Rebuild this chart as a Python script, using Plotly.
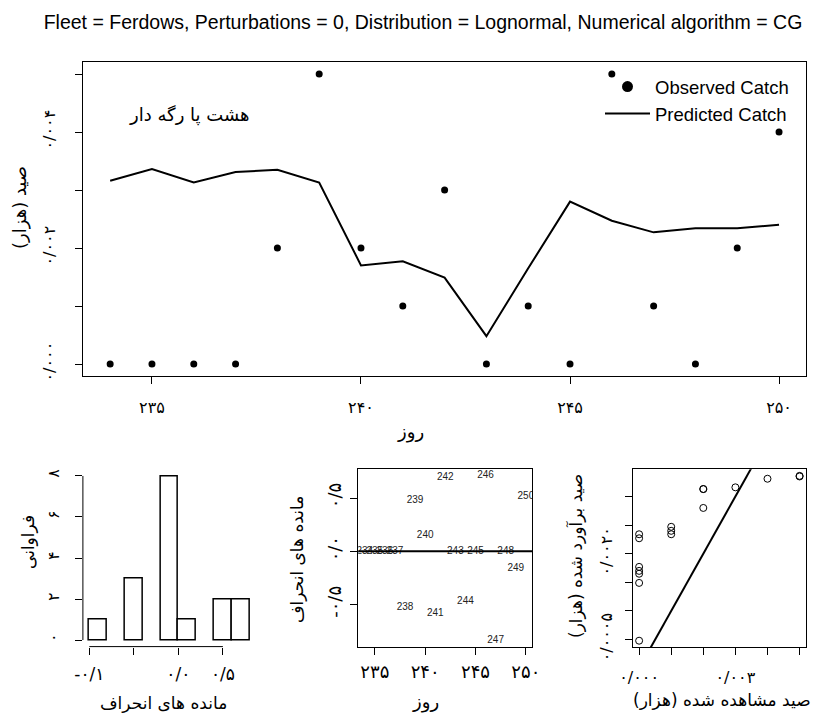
import plotly.graph_objects as go

# ---------------- data ----------------
days = [234, 235, 236, 237, 238, 239, 240, 241, 242, 243, 244, 245, 246, 247, 248, 249, 250]
observed = [0.0, 0.0, 0.0, 0.0, 0.002, 0.005, 0.002, 0.001, 0.003, 0.0, 0.001, 0.0, 0.005, 0.001, 0.0, 0.002, 0.004]
predicted = [0.00316, 0.00336, 0.00313, 0.00331, 0.00335, 0.00313, 0.00170, 0.00177, 0.00149, 0.00048,
             0.00165, 0.00280, 0.00247, 0.00227, 0.00234, 0.00234, 0.00240]
residuals = [0.0, 0.0, 0.0, 0.0, -0.0525, 0.0475, 0.015, -0.0584, 0.0694, 0.0, -0.0475, 0.0, 0.0709,
             -0.0834, 0.0, -0.0165, 0.0516]
hist_breaks = [-0.1, -0.08, -0.06, -0.04, -0.02, 0.0, 0.02, 0.04, 0.06, 0.08]

top_x_ticks = [235, 240, 245, 250]
top_x_text = ["۲۳۵", "۲۴۰", "۲۴۵", "۲۵۰"]
top_y_ticks = [0.0, 0.001, 0.002, 0.003, 0.004, 0.005]
top_y_text = ["۰/۰۰۰", "", "۰/۰۰۲", "", "۰/۰۰۴", ""]
hist_x_ticks = [-0.1, -0.05, 0.0, 0.05]
hist_x_text = ["-۰/۱", "", "۰/۰", "۰/۵"]
hist_y_ticks = [0, 2, 4, 6, 8]
hist_y_text = ["۰", "۲", "۴", "۶", "۸"]
mid_y_ticks = [-0.05, 0.0, 0.05]
mid_y_text = ["-۰/۵", "۰/۰", "۰/۵"]
right_x_ticks = [0.0, 0.001, 0.002, 0.003, 0.004, 0.005]
right_x_text = ["۰/۰۰۰", "", "", "۰/۰۰۳", "", ""]
right_y_ticks = [0.0005, 0.001, 0.0015, 0.002, 0.0025, 0.003]
right_y_text = ["۰/۰۰۰۵", "", "", "۰/۰۰۲۰", "", ""]

title_text = "Fleet = Ferdows, Perturbations = 0, Distribution = Lognormal, Numerical algorithm = CG"
species_text = "هشت پا رگه دار"
RLM = "\u200f"

# ---------------- helpers ----------------
W, H = 824, 715
FA = "DejaVu Sans"
EN = "Liberation Sans, Arial, sans-serif"


def px(x):
    return x / W


def py(y):
    return 1 - y / H


def ext(vals):
    lo, hi = min(vals), max(vals)
    d = (hi - lo) * 0.04
    return [lo - d, hi + d]


# histogram counts, right-closed bins like R
counts = []
for i in range(len(hist_breaks) - 1):
    a, b = hist_breaks[i], hist_breaks[i + 1]
    c = sum(1 for r in residuals if (a < r <= b) or (i == 0 and r == a))
    counts.append(c)
centers = [(hist_breaks[i] + hist_breaks[i + 1]) / 2 for i in range(len(counts))]
bw = hist_breaks[1] - hist_breaks[0]
bx = [c for c, n in zip(centers, counts) if n > 0]
by = [n for n in counts if n > 0]

obs_sorted = sorted(observed)
pred_sorted = sorted(predicted)

fig = go.Figure()

# top panel
fig.add_trace(go.Scatter(x=days, y=observed, mode="markers", marker=dict(color="black", size=7),
                         showlegend=False, xaxis="x", yaxis="y"))
fig.add_trace(go.Scatter(x=days, y=predicted, mode="lines", line=dict(color="black", width=2),
                         showlegend=False, xaxis="x", yaxis="y"))
fig.add_trace(go.Scatter(x=[None], y=[None], mode="markers", marker=dict(color="black", size=11),
                         name="Observed Catch", xaxis="x", yaxis="y"))
fig.add_trace(go.Scatter(x=[None], y=[None], mode="lines", line=dict(color="black", width=2),
                         name="Predicted Catch", xaxis="x", yaxis="y"))

# histogram
fig.add_trace(go.Bar(x=bx, y=by, width=bw, marker=dict(color="white", line=dict(color="black", width=1.5)),
                     showlegend=False, xaxis="x2", yaxis="y2"))

# residuals vs day
fig.add_trace(go.Scatter(x=days, y=residuals, mode="text", text=[str(d) for d in days],
                         textfont=dict(family=EN, size=10, color="#222"), showlegend=False,
                         xaxis="x3", yaxis="y3"))

# observed vs predicted (sorted)
rx = ext(obs_sorted)
ry = ext(pred_sorted)
fig.add_trace(go.Scatter(x=obs_sorted, y=pred_sorted, mode="markers",
                         marker=dict(symbol="circle-open", color="black", size=7, line=dict(width=1)),
                         showlegend=False, xaxis="x4", yaxis="y4"))
lim = [min(rx[0], ry[0]), max(rx[1], ry[1])]
fig.add_trace(go.Scatter(x=lim, y=lim, mode="lines", line=dict(color="black", width=2),
                         showlegend=False, xaxis="x4", yaxis="y4"))


def axis(domain, anchor, rng, tv, tt, size, angle=0, standoff=4, box=True):
    return dict(domain=domain, anchor=anchor, range=rng, tickvals=tv, ticktext=tt,
                ticks="outside", ticklen=7, tickwidth=1, tickcolor="black",
                showline=box, mirror=box, linecolor="black", linewidth=1,
                showgrid=False, zeroline=False, tickangle=angle, automargin=False,
                tickfont=dict(family=FA, size=size, color="black"),
                ticklabelstandoff=standoff, fixedrange=True)


top_xr = ext(days)
top_yr = ext(observed + predicted)
hist_xr = ext(hist_breaks)
hist_yr = ext([0] + counts)
mid_xr = ext(days)
mid_yr = ext(residuals)

layout = dict(
    width=W, height=H, margin=dict(l=0, r=0, t=0, b=0, autoexpand=False),
    paper_bgcolor="white", plot_bgcolor="white",
    title=dict(text=title_text, x=px(423), xanchor="center", y=py(22), yanchor="middle",
               xref="paper", yref="container", automargin=False,
               font=dict(family=EN, size=19.5, color="black")),
    legend=dict(x=px(600), y=py(68), xanchor="left", yanchor="top", bgcolor="rgba(0,0,0,0)",
                font=dict(family=EN, size=18.5, color="black"), itemwidth=45, tracegroupgap=0),
    xaxis=axis([px(83.4), px(805.8)], "y", top_xr, top_x_ticks, top_x_text, 16, 0, 10),
    yaxis=axis([py(375.6), py(62.4)], "x", top_yr, top_y_ticks, top_y_text, 16, -90, 14),
    xaxis2=axis([px(82.9), px(256)], "y2", hist_xr, hist_x_ticks, hist_x_text, 17, 0, 5, box=False),
    yaxis2=axis([py(646.6), py(469.4)], "x2", hist_yr, hist_y_ticks, hist_y_text, 16, -90, 10, box=False),
    xaxis3=axis([px(358.3), px(532.3)], "y3", mid_xr, top_x_ticks, top_x_text, 18, 0, 2),
    yaxis3=axis([py(646.7), py(469.3)], "x3", mid_yr, mid_y_ticks, mid_y_text, 18, -90, 2),
    xaxis4=axis([px(632.7), px(806)], "y4", rx, right_x_ticks, right_x_text, 16, 0, 8),
    yaxis4=axis([py(647.3), py(469.3)], "x4", ry, right_y_ticks, right_y_text, 16, -90, 6),
    bargap=0,
)
fig.update_layout(**layout)

# histogram axis lines spanning only the tick range (as in R)
fig.add_shape(type="line", xref="x2", yref="y2 domain", x0=hist_x_ticks[0], x1=hist_x_ticks[-1], y0=0, y1=0,
              line=dict(color="black", width=1))
fig.add_shape(type="line", xref="x2 domain", yref="y2", x0=0, x1=0, y0=hist_y_ticks[0], y1=hist_y_ticks[-1],
              line=dict(color="black", width=1))
# zero reference line in residual plot
fig.add_shape(type="line", xref="x3 domain", yref="y3", x0=0, x1=1, y0=0, y1=0,
              line=dict(color="black", width=2))


def note(text, x, y, size, angle=0, family=FA):
    fig.add_annotation(text=text, x=px(x), y=py(y), xref="paper", yref="paper", xanchor="center",
                       yanchor="middle", showarrow=False, textangle=angle,
                       font=dict(family=family, size=size, color="black"))


note(species_text, 189, 115, 18)
note("صید (هزار)" + RLM, 20, 208, 18, -90)
note("روز", 410, 432, 18)
note("فراوانی", 28, 542, 17, -90)
note("مانده های انحراف", 163, 703, 17)
note("مانده های انحراف", 297, 560, 17, -90)
note("روز", 425, 702, 18)
note("صید برآورد شده (هزار)" + RLM, 575, 556, 17, -90)
note("صید مشاهده شده (هزار)" + RLM, 722, 700, 17)

fig.write_html("out.html", config={"displayModeBar": False},
               post_script="document.body.style.margin='0px';document.body.style.overflow='hidden';")
